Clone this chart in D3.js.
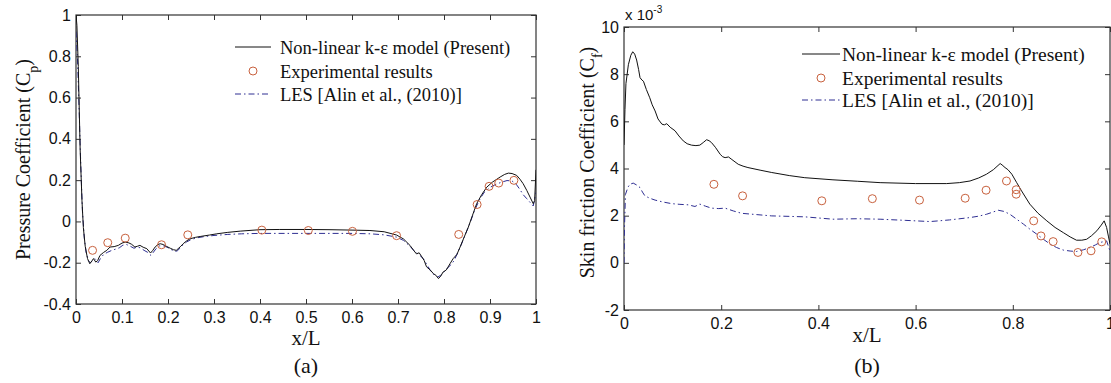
<!DOCTYPE html>
<html>
<head>
<meta charset="utf-8">
<script src="https://cdn.jsdelivr.net/npm/d3@7"></script>
<style>
html,body{margin:0;padding:0;background:#fff;}
svg{display:block;}
</style>
</head>
<body>
<svg id="chart" width="1111" height="383"></svg>
<script>
// ---------- Panel (a): pressure coefficient ----------
const cpModel = [[0,1.0],[0.002,0.95],[0.005,0.75],[0.009,0.35],[0.013,0.1],[0.016,-0.03],[0.02,-0.12],[0.025,-0.18],[0.03,-0.205],[0.035,-0.19],[0.038,-0.18],[0.043,-0.197],[0.047,-0.19],[0.052,-0.165],[0.06,-0.15],[0.067,-0.14],[0.074,-0.124],[0.083,-0.122],[0.092,-0.116],[0.1,-0.105],[0.107,-0.1],[0.115,-0.104],[0.121,-0.111],[0.128,-0.124],[0.134,-0.12],[0.139,-0.116],[0.146,-0.125],[0.154,-0.132],[0.162,-0.153],[0.167,-0.14],[0.172,-0.124],[0.178,-0.112],[0.183,-0.108],[0.19,-0.112],[0.197,-0.121],[0.205,-0.13],[0.212,-0.137],[0.218,-0.14],[0.222,-0.132],[0.228,-0.12],[0.233,-0.108],[0.24,-0.095],[0.248,-0.084],[0.26,-0.077],[0.27,-0.073],[0.29,-0.066],[0.306,-0.06],[0.33,-0.053],[0.357,-0.047],[0.4,-0.04],[0.443,-0.039],[0.5,-0.039],[0.55,-0.04],[0.6,-0.042],[0.639,-0.044],[0.67,-0.05],[0.697,-0.066],[0.712,-0.085],[0.726,-0.116],[0.734,-0.14],[0.74,-0.157],[0.746,-0.152],[0.752,-0.172],[0.757,-0.19],[0.762,-0.22],[0.77,-0.235],[0.777,-0.253],[0.783,-0.262],[0.788,-0.277],[0.793,-0.265],[0.798,-0.245],[0.805,-0.235],[0.813,-0.205],[0.82,-0.18],[0.828,-0.16],[0.835,-0.124],[0.844,-0.075],[0.853,-0.027],[0.862,0.03],[0.871,0.086],[0.882,0.13],[0.893,0.166],[0.905,0.19],[0.922,0.215],[0.932,0.228],[0.94,0.234],[0.948,0.232],[0.958,0.223],[0.965,0.205],[0.972,0.183],[0.98,0.15],[0.987,0.118],[0.994,0.086],[0.997,0.1],[1.0,0.25]];
const cpLES = [[0,0.92],[0.003,0.8],[0.006,0.6],[0.01,0.3],[0.014,0.05],[0.018,-0.08],[0.022,-0.15],[0.027,-0.19],[0.031,-0.2],[0.036,-0.19],[0.041,-0.18],[0.045,-0.19],[0.048,-0.2],[0.053,-0.18],[0.06,-0.16],[0.068,-0.15],[0.076,-0.142],[0.085,-0.135],[0.094,-0.128],[0.102,-0.115],[0.11,-0.112],[0.118,-0.12],[0.126,-0.13],[0.133,-0.124],[0.14,-0.128],[0.148,-0.14],[0.156,-0.15],[0.163,-0.165],[0.168,-0.15],[0.174,-0.132],[0.182,-0.118],[0.19,-0.118],[0.198,-0.125],[0.206,-0.135],[0.214,-0.145],[0.22,-0.143],[0.226,-0.13],[0.232,-0.115],[0.24,-0.1],[0.25,-0.088],[0.262,-0.08],[0.28,-0.073],[0.3,-0.068],[0.33,-0.063],[0.36,-0.06],[0.4,-0.058],[0.45,-0.058],[0.5,-0.058],[0.55,-0.058],[0.6,-0.058],[0.64,-0.06],[0.67,-0.065],[0.697,-0.076],[0.712,-0.092],[0.726,-0.12],[0.736,-0.145],[0.746,-0.162],[0.755,-0.18],[0.763,-0.21],[0.771,-0.24],[0.779,-0.26],[0.786,-0.27],[0.792,-0.262],[0.8,-0.245],[0.808,-0.225],[0.815,-0.21],[0.822,-0.19],[0.83,-0.15],[0.838,-0.11],[0.847,-0.06],[0.856,-0.01],[0.866,0.05],[0.876,0.1],[0.887,0.14],[0.9,0.165],[0.913,0.18],[0.925,0.19],[0.937,0.198],[0.948,0.196],[0.957,0.18],[0.965,0.155],[0.972,0.13],[0.98,0.11],[0.988,0.09],[0.994,0.075],[1.0,0.14]];
const cpExp = [[0.036,-0.14],[0.069,-0.103],[0.107,-0.081],[0.186,-0.113],[0.243,-0.065],[0.404,-0.042],[0.505,-0.044],[0.601,-0.048],[0.697,-0.069],[0.832,-0.063],[0.872,0.082],[0.898,0.17],[0.919,0.186],[0.952,0.199]];
const cpXTicks = [0,0.1,0.2,0.3,0.4,0.5,0.6,0.7,0.8,0.9,1];
const cpXTickLabels = ["0","0.1","0.2","0.3","0.4","0.5","0.6","0.7","0.8","0.9","1"];
const cpYTicks = [-0.4,-0.2,0,0.2,0.4,0.6,0.8,1];
const cpYTickLabels = ["-0.4","-0.2","0","0.2","0.4","0.6","0.8","1"];

// ---------- Panel (b): skin friction coefficient (x 10^-3) ----------
const cfModel = [[0,5.0],[0.002,6.5],[0.004,7.6],[0.009,8.4],[0.014,8.8],[0.018,8.95],[0.022,8.85],[0.026,8.6],[0.03,8.2],[0.033,7.85],[0.037,7.75],[0.04,7.7],[0.046,7.35],[0.053,7.0],[0.058,6.7],[0.064,6.44],[0.07,6.1],[0.078,5.88],[0.083,5.85],[0.088,5.9],[0.095,5.75],[0.105,5.6],[0.113,5.38],[0.122,5.17],[0.13,5.05],[0.139,4.99],[0.148,4.97],[0.156,4.99],[0.163,5.1],[0.17,5.22],[0.175,5.18],[0.18,5.1],[0.188,4.9],[0.198,4.6],[0.203,4.5],[0.208,4.46],[0.215,4.49],[0.222,4.38],[0.235,4.18],[0.245,4.1],[0.255,4.04],[0.28,3.93],[0.304,3.83],[0.34,3.7],[0.372,3.61],[0.43,3.52],[0.48,3.46],[0.527,3.4],[0.6,3.36],[0.664,3.36],[0.69,3.4],[0.712,3.47],[0.73,3.6],[0.746,3.76],[0.76,3.95],[0.774,4.21],[0.778,4.15],[0.784,4.04],[0.79,3.95],[0.798,3.76],[0.808,3.4],[0.818,3.05],[0.835,2.49],[0.852,2.1],[0.87,1.78],[0.887,1.5],[0.904,1.28],[0.918,1.1],[0.931,0.96],[0.942,0.96],[0.952,1.0],[0.962,1.15],[0.973,1.36],[0.982,1.6],[0.988,1.78],[0.993,1.5],[0.997,1.1],[1.0,0.8]];
const cfLES = [[0,0],[0.001,1.5],[0.003,2.9],[0.008,3.2],[0.012,3.33],[0.019,3.38],[0.026,3.3],[0.033,3.19],[0.038,3.0],[0.043,2.84],[0.053,2.74],[0.064,2.66],[0.08,2.58],[0.098,2.51],[0.115,2.48],[0.132,2.46],[0.146,2.39],[0.156,2.49],[0.168,2.4],[0.18,2.32],[0.195,2.3],[0.208,2.32],[0.225,2.2],[0.242,2.1],[0.27,2.05],[0.304,1.99],[0.34,1.97],[0.372,1.95],[0.43,1.85],[0.48,1.87],[0.527,1.85],[0.58,1.8],[0.63,1.75],[0.67,1.82],[0.712,1.92],[0.73,1.98],[0.746,2.06],[0.77,2.23],[0.782,2.18],[0.794,2.06],[0.808,1.85],[0.822,1.64],[0.835,1.43],[0.849,1.22],[0.863,1.0],[0.877,0.79],[0.89,0.65],[0.904,0.54],[0.918,0.5],[0.931,0.48],[0.945,0.55],[0.959,0.65],[0.97,0.76],[0.979,0.86],[0.993,0.93],[1.0,0.5]];
const cfExp = [[0.185,3.33],[0.244,2.84],[0.407,2.63],[0.511,2.72],[0.608,2.66],[0.702,2.74],[0.745,3.08],[0.787,3.47],[0.807,3.1],[0.807,2.91],[0.843,1.78],[0.858,1.14],[0.883,0.9],[0.934,0.44],[0.961,0.51],[0.983,0.89]];
const cfXTicks = [0,0.2,0.4,0.6,0.8,1];
const cfXTickLabels = ["0","0.2","0.4","0.6","0.8","1"];
const cfYTicks = [-2,0,2,4,6,8,10];
const cfYTickLabels = ["-2","0","2","4","6","8","10"];

const legendLabels = ["Non-linear k-\u03b5 model (Present)","Experimental results","LES [Alin et al., (2010)]"];

// ---------- drawing ----------
const svg = d3.select("#chart");
const SANS = "'Liberation Sans', Arial, sans-serif";
const SERIF = "'Liberation Serif', 'Times New Roman', serif";
const LES_COLOR = "#2e2e92";
const EXP_COLOR = "#c8613e";

function panel(cfg) {
  const x = d3.scaleLinear().domain(cfg.xDomain).range([cfg.left, cfg.right]);
  const y = d3.scaleLinear().domain(cfg.yDomain).range([cfg.bottom, cfg.top]);
  const g = svg.append("g");
  const clipId = "clip" + cfg.id;
  svg.append("clipPath").attr("id", clipId).append("rect")
    .attr("x", cfg.left).attr("y", cfg.top)
    .attr("width", cfg.right - cfg.left).attr("height", cfg.bottom - cfg.top);

  const tl = 5;
  const fmtX = (d) => cfg.xLabels[cfg.xTicks.indexOf(d)];
  const fmtY = (d) => cfg.yLabels[cfg.yTicks.indexOf(d)];

  const bx = g.append("g").attr("transform", `translate(0,${cfg.bottom})`)
    .call(d3.axisBottom(x).tickValues(cfg.xTicks).tickFormat(fmtX).tickSizeInner(-tl).tickSizeOuter(0).tickPadding(8));
  const tx = g.append("g").attr("transform", `translate(0,${cfg.top})`)
    .call(d3.axisTop(x).tickValues(cfg.xTicks).tickFormat("").tickSizeInner(-tl).tickSizeOuter(0));
  const ly = g.append("g").attr("transform", `translate(${cfg.left},0)`)
    .call(d3.axisLeft(y).tickValues(cfg.yTicks).tickFormat(fmtY).tickSizeInner(-tl).tickSizeOuter(0).tickPadding(5));
  const ry = g.append("g").attr("transform", `translate(${cfg.right},0)`)
    .call(d3.axisRight(y).tickValues(cfg.yTicks).tickFormat("").tickSizeInner(-tl).tickSizeOuter(0));

  [bx, tx, ly, ry].forEach(a => {
    a.select(".domain").remove();
    a.selectAll(".tick line").attr("stroke", "#333").attr("stroke-width", 1);
    a.selectAll("text").attr("font-family", SANS).attr("font-size", 16).attr("fill", "#111");
  });

  g.append("rect").attr("x", cfg.left).attr("y", cfg.top)
    .attr("width", cfg.right - cfg.left).attr("height", cfg.bottom - cfg.top)
    .attr("fill", "none").attr("stroke", "#333").attr("stroke-width", 1.2);

  const line = d3.line().x(d => x(d[0])).y(d => y(d[1]));
  const plot = g.append("g").attr("clip-path", `url(#${clipId})`);
  plot.append("path").datum(cfg.les).attr("d", line)
    .attr("fill", "none").attr("stroke", LES_COLOR).attr("stroke-width", 1)
    .attr("stroke-dasharray", "6,3,1.5,3");
  plot.append("path").datum(cfg.model).attr("d", line)
    .attr("fill", "none").attr("stroke", "#111").attr("stroke-width", 1);
  plot.selectAll("circle").data(cfg.exp).enter().append("circle")
    .attr("cx", d => x(d[0])).attr("cy", d => y(d[1])).attr("r", 4)
    .attr("fill", "none").attr("stroke", EXP_COLOR).attr("stroke-width", 1);

  const L = cfg.legend;
  const lg = g.append("g");
  lg.append("line").attr("x1", L.x0).attr("x2", L.x1).attr("y1", L.rows[0]).attr("y2", L.rows[0])
    .attr("stroke", "#111").attr("stroke-width", 1);
  lg.append("circle").attr("cx", (L.x0 + L.x1) / 2).attr("cy", L.rows[1]).attr("r", 4)
    .attr("fill", "none").attr("stroke", EXP_COLOR).attr("stroke-width", 1);
  lg.append("line").attr("x1", L.x0).attr("x2", L.x1).attr("y1", L.rows[2]).attr("y2", L.rows[2])
    .attr("stroke", LES_COLOR).attr("stroke-width", 1).attr("stroke-dasharray", "6,3,1.5,3");
  legendLabels.forEach((t, i) => {
    lg.append("text").attr("x", L.tx).attr("y", L.rows[i] + L.dy)
      .attr("font-family", SERIF).attr("font-size", L.fs).attr("fill", "#111").text(t);
  });

  const yl = g.append("text")
    .attr("transform", `translate(${cfg.yLabelX},${(cfg.top + cfg.bottom) / 2 + cfg.yLabelShift}) rotate(-90)`)
    .attr("text-anchor", "middle").attr("font-family", SERIF).attr("font-size", 20).attr("fill", "#111");
  yl.append("tspan").text(cfg.yLabel);
  yl.append("tspan").attr("baseline-shift", "sub").attr("font-size", 14).text(cfg.yLabelSub);
  yl.append("tspan").text(")");

  const cx = (cfg.left + cfg.right) / 2;
  g.append("text").attr("x", cx).attr("y", cfg.xLabelY).attr("text-anchor", "middle")
    .attr("font-family", SERIF).attr("font-size", 21).attr("fill", "#111").text("x/L");
  g.append("text").attr("x", cx).attr("y", 373).attr("text-anchor", "middle")
    .attr("font-family", SERIF).attr("font-size", 22).attr("fill", "#111").text(cfg.caption);
  return g;
}

panel({
  id: "a", left: 76, right: 536, top: 15, bottom: 304,
  xDomain: [0, 1], yDomain: [-0.4, 1],
  xTicks: cpXTicks, xLabels: cpXTickLabels, yTicks: cpYTicks, yLabels: cpYTickLabels,
  model: cpModel, les: cpLES, exp: cpExp,
  legend: { x0: 235, x1: 271, tx: 280, rows: [47, 71, 94], dy: 7, fs: 18.5 },
  yLabel: "Pressure Coefficient (C", yLabelSub: "p", yLabelX: 30, yLabelShift: 0,
  xLabelY: 345, caption: "(a)"
});

const gb = panel({
  id: "b", left: 624, right: 1110, top: 27, bottom: 310,
  xDomain: [0, 1], yDomain: [-2, 10],
  xTicks: cfXTicks, xLabels: cfXTickLabels, yTicks: cfYTicks, yLabels: cfYTickLabels,
  model: cfModel, les: cfLES, exp: cfExp,
  legend: { x0: 802, x1: 840, tx: 842, rows: [54, 78, 100], dy: 7, fs: 19.5 },
  yLabel: "Skin friction Coefficient (C", yLabelSub: "f", yLabelX: 594, yLabelShift: -6,
  xLabelY: 342, caption: "(b)"
});

const ex = gb.append("text").attr("x", 625).attr("y", 20)
  .attr("font-family", SANS).attr("font-size", 15).attr("fill", "#111");
ex.append("tspan").text("x 10");
ex.append("tspan").attr("dy", -7).attr("font-size", 10).text("-3");
</script>
</body>
</html>
